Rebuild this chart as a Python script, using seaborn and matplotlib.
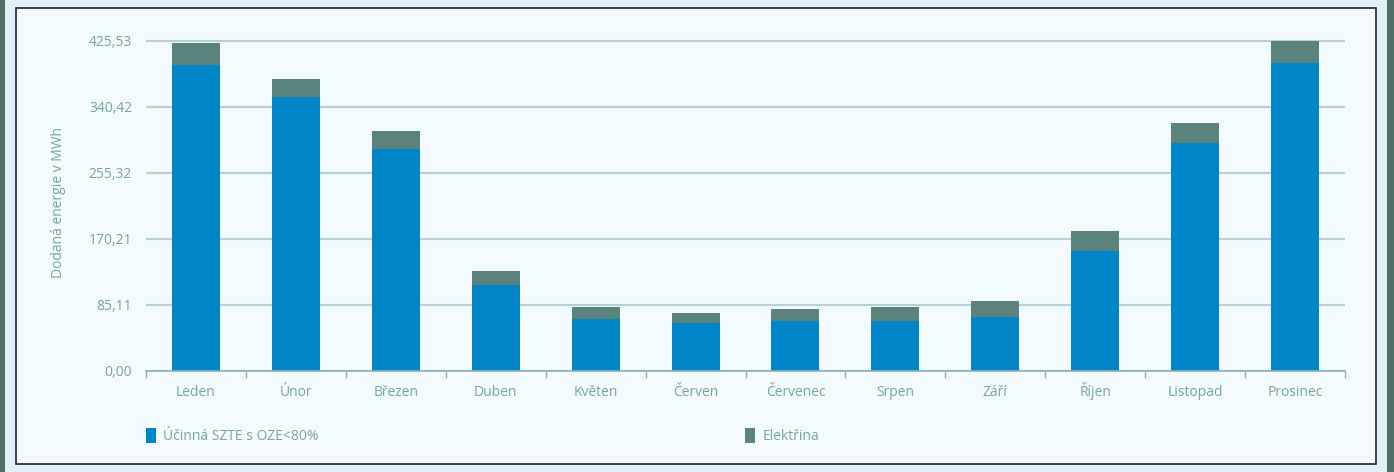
import matplotlib
matplotlib.use("Agg")
import matplotlib.pyplot as plt
import seaborn as sns
import pandas as pd
from matplotlib.patches import Rectangle, Patch

months = ["Leden", "Únor", "Březen", "Duben", "Květen", "Červen",
          "Červenec", "Srpen", "Září", "Říjen", "Listopad", "Prosinec"]
szte = [394.2, 352.9, 285.9, 110.5, 66.7, 61.5, 64.1, 64.1, 69.2, 154.3, 293.6, 396.8]
elektrina = [28.4, 23.2, 23.2, 18.1, 15.4, 12.9, 15.7, 18.0, 20.7, 25.8, 25.8, 28.7]
yticks = [0.0, 85.11, 170.21, 255.32, 340.42, 425.53]
ytick_labels = ["0,00", "85,11", "170,21", "255,32", "340,42", "425,53"]
series_names = ["Účinná SZTE s OZE<80%", "Elektřina"]

BLUE = "#0086c8"
GREEN = "#5b837d"
TXT = "#7aa3a3"
GRID = "#b7d0d3"
INNER = "#f3fafd"
OUTER = "#e2f1f9"

sns.set_theme(style="white")
plt.rcParams["font.family"] = ["Open Sans", "DejaVu Sans"]

df = pd.DataFrame({"month": months, "szte": szte, "el": elektrina})
df["total"] = df["szte"] + df["el"]

W, H = 1394, 472
fig = plt.figure(figsize=(W / 100, H / 100), dpi=100)
fig.patch.set_facecolor(OUTER)

# decorative frame
fig.patches.append(Rectangle((0, 0), 5 / W, 1, transform=fig.transFigure,
                             facecolor="#4f7268", edgecolor="none", zorder=-5))
fig.patches.append(Rectangle((1387 / W, 0), 7 / W, 1, transform=fig.transFigure,
                             facecolor="#4f7268", edgecolor="none", zorder=-5))
fig.patches.append(Rectangle((15.5 / W, 1 - 463.5 / H), (1376 - 15.5) / W, (463.5 - 7.5) / H,
                             transform=fig.transFigure, facecolor=INNER,
                             edgecolor="#333333", linewidth=1.3, zorder=-5))

y0 = 370.7
ytop = 35
left, right = 146, 1345
ax = fig.add_axes([left / W, 1 - y0 / H, (right - left) / W, (y0 - ytop) / H])
ax.set_zorder(2)
ax.set_facecolor("none")

sns.barplot(data=df, x="month", y="total", color=GREEN, width=0.48,
            saturation=1, linewidth=0, ax=ax, zorder=3)
sns.barplot(data=df, x="month", y="szte", color=BLUE, width=0.48,
            saturation=1, linewidth=0, ax=ax, zorder=4)

pxu = 0.7755
ax.set_xlim(-0.5, 11.5)
ax.set_ylim(0, (y0 - ytop) / pxu)
ax.set_yticks(yticks)
ax.set_yticklabels(ytick_labels)
ax.yaxis.grid(True, color=GRID, linewidth=1.6, zorder=0)
ax.set_axisbelow(True)

for s in ["top", "right", "left"]:
    ax.spines[s].set_visible(False)
ax.spines["bottom"].set_color("#8fb0b0")
ax.spines["bottom"].set_linewidth(1.2)
ax.spines["bottom"].set_zorder(5)

ax.set_xticks(range(len(months)))
ax.set_xticklabels(months, va="baseline")
ax.set_xticks([i - 0.5 for i in range(len(months) + 1)], minor=True)
ax.tick_params(axis="x", which="major", length=0, pad=18, labelsize=10, labelcolor=TXT)
ax.tick_params(axis="x", which="minor", length=5, width=1, color="#8fb0b0", bottom=True)
ax.tick_params(axis="y", length=0, pad=10, labelsize=10, labelcolor=TXT)
ax.set_xlabel("")
ax.set_ylabel("Dodaná energie v MWh", color=TXT, fontsize=10, labelpad=16)

handles = [Patch(facecolor=BLUE, edgecolor="none"), Patch(facecolor=GREEN, edgecolor="none")]
for hnd, name, xpx in zip(handles, series_names, [146, 745]):
    fig.legend([hnd], [name], loc="center left",
               bbox_to_anchor=(xpx / W, 1 - 436 / H), frameon=False, fontsize=10,
               handlelength=0.7, handleheight=1.3, handletextpad=0.55,
               labelcolor=TXT, borderaxespad=0, borderpad=0)

fig.savefig("out.png", dpi=100, facecolor=fig.get_facecolor())
